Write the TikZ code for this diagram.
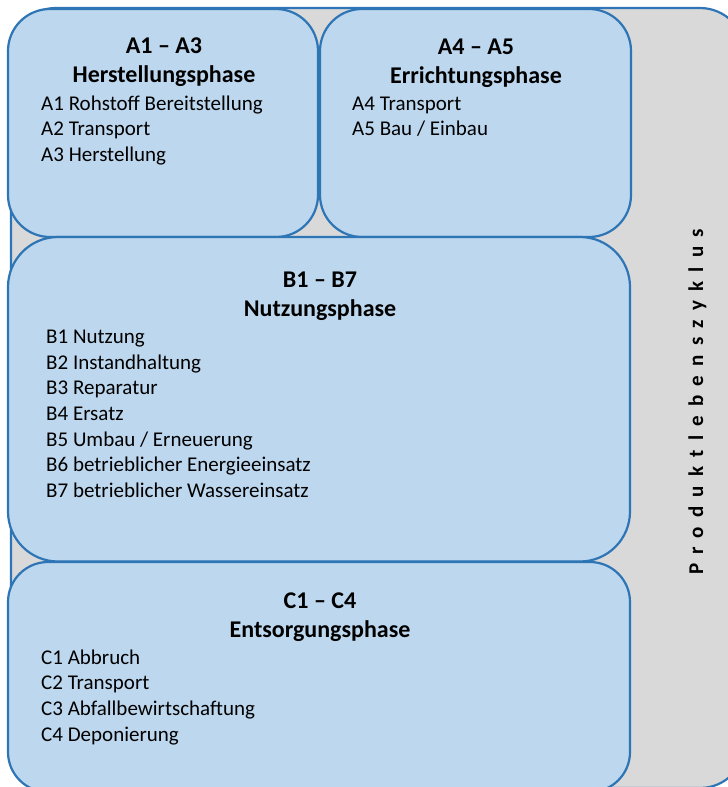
\documentclass[tikz,border=0pt]{standalone}
\usepackage{fontspec}
\setmainfont{Carlito}
\definecolor{phasefill}{HTML}{BDD7EE}
\definecolor{phaseline}{HTML}{2E75B6}
\definecolor{cyclefill}{HTML}{D9D9D9}
\begin{document}
\begin{tikzpicture}[x=1pt,y=-1pt,
  phase/.style={draw=phaseline, fill=phasefill, line width=2.2pt, inner sep=0pt, outer sep=0pt},
  ptitle/.style={font=\bfseries\fontsize{24}{29}\selectfont, align=center, anchor=north, inner sep=0pt},
  pbody/.style={font=\fontsize{21}{25.7}\selectfont, align=left, anchor=north west, inner sep=0pt},
  cyclelabel/.style={font=\bfseries\fontsize{21}{25}\selectfont\addfontfeature{LetterSpace=44}, rotate=90, anchor=base, inner sep=0pt}
]
\useasboundingbox (0,0) rectangle (728,787);
\clip (0,0) rectangle (728,787);
\node[phase, fill=cyclefill, rounded corners=45pt, minimum width=734pt, minimum height=780pt] (cycle) at (378,398) {};
\node[phase, rounded corners=42pt, minimum width=310pt, minimum height=228pt] (a13) at (163,123) {};
\node[phase, rounded corners=42pt, minimum width=311pt, minimum height=228pt] (a45) at (475.5,123) {};
\node[phase, rounded corners=50pt, minimum width=622pt, minimum height=324.5pt] (b17) at (319,399.25) {};
\node[phase, rounded corners=40pt, minimum width=622pt, minimum height=230pt] (c14) at (319,677) {};

\node[ptitle] (t13) at (164,33.2) {\strut A1 – A3\\\strut Herstellungsphase};
\node[pbody] (l13) at (41,92) {\strut A1 Rohstoff Bereitstellung\\\strut A2 Transport\\\strut A3 Herstellung};

\node[ptitle] (t45) at (476,33.7) {\strut A4 – A5\\\strut Errichtungsphase};
\node[pbody] (l45) at (352,92) {\strut A4 Transport\\\strut A5 Bau / Einbau};

\node[ptitle] (tb) at (320,266.7) {\strut B1 – B7\\\strut Nutzungsphase};
\node[pbody] (lb) at (46,325.3) {\strut B1 Nutzung\\\strut B2 Instandhaltung\\\strut B3 Reparatur\\\strut B4 Ersatz\\\strut B5 Umbau / Erneuerung\\\strut B6 betrieblicher Energieeinsatz\\\strut B7 betrieblicher Wassereinsatz};

\node[ptitle] (tc) at (320,587.7) {\strut C1 – C4\\\strut Entsorgungsphase};
\node[pbody] (lc) at (41,646) {\strut C1 Abbruch\\\strut C2 Transport\\\strut C3 Abfallbewirtschaftung\\\strut C4 Deponierung};

\node[cyclelabel] (zyklus) at (703,402) {Produktlebenszyklus};
\end{tikzpicture}
\end{document}
